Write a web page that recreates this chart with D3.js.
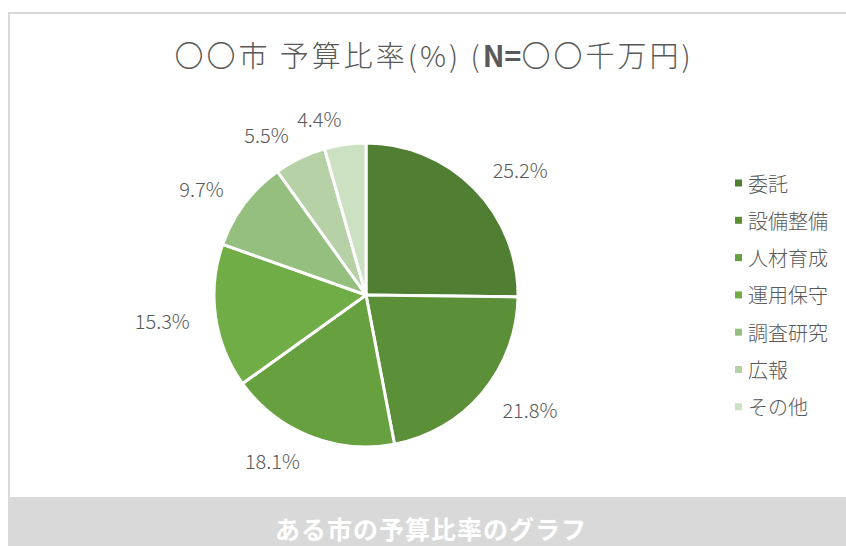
<!DOCTYPE html>
<html>
<head>
<meta charset="utf-8">
<script src="https://cdn.jsdelivr.net/npm/d3@7"></script>
<style>
    body { margin: 0; background: #fff; }
    svg { display: block; font-family: "Noto Sans CJK JP", "Noto Sans", sans-serif; }
</style>
</head>
<body>
<svg id="chart"></svg>
<script>
// 予算の内訳 (%)
var categories = ["委託", "設備整備", "人材育成", "運用保守", "調査研究", "広報", "その他"];
var shares = [25.2, 21.8, 18.1, 15.3, 9.7, 5.5, 4.4];
var colors = ["#507e32", "#5b9039", "#66a03f", "#70ad47", "#95bf7f", "#b5d1a5", "#cce0c2"];
var titleParts = ["〇〇市 予算比率(%) (", "N=", "〇〇千万円)"];
var caption = "ある市の予算比率のグラフ";

var width = 846,
    height = 546,
    radius = 152,
    cx = 366,
    cy = 295;

var svg = d3.select("#chart")
    .attr("width", width)
    .attr("height", height);

// chart frame
svg.append("rect")
    .attr("x", 9)
    .attr("y", 13)
    .attr("width", width)
    .attr("height", 500)
    .attr("fill", "#fff")
    .attr("stroke", "#d9d9d9")
    .attr("stroke-width", 2);

var title = svg.append("text")
    .attr("x", 434)
    .attr("y", 67)
    .attr("text-anchor", "middle")
    .attr("fill", "#595959")
    .style("font-size", "29px")
    .style("font-weight", 300);

title.selectAll("tspan")
    .data(titleParts)
    .enter().append("tspan")
    .style("font-weight", function(d, i) { return i === 1 ? 600 : 300; })
    .style("letter-spacing", function(d, i) { return i === 1 ? "0px" : "3px"; })
    .text(function(d) { return d; });

var pie = d3.pie()
    .sort(null)
    .value(function(d) { return d; });

var arc = d3.arc()
    .outerRadius(radius)
    .innerRadius(0);

var arcs = pie(shares);

var g = svg.append("g")
    .attr("transform", "translate(" + cx + "," + cy + ")");

g.selectAll("path")
    .data(arcs)
    .enter().append("path")
    .attr("d", arc)
    .attr("fill", function(d, i) { return colors[i]; })
    .attr("stroke", "#fff")
    .attr("stroke-width", 3)
    .attr("stroke-linejoin", "round");

// outside-end labels
var labelR = radius + 26;
g.selectAll(".lbl")
    .data(arcs)
    .enter().append("text")
    .attr("class", "lbl")
    .attr("fill", "#595959")
    .style("font-size", "20px")
    .style("font-weight", 300)
    .attr("dominant-baseline", "central")
    .attr("text-anchor", function(d) {
        return (d.startAngle + d.endAngle) / 2 < Math.PI ? "start" : "end";
    })
    .attr("x", function(d) { return Math.sin((d.startAngle + d.endAngle) / 2) * labelR; })
    .attr("y", function(d) { return -Math.cos((d.startAngle + d.endAngle) / 2) * labelR; })
    .text(function(d) { return d.data.toFixed(1) + "%"; });

// legend
var legend = svg.append("g")
    .attr("transform", "translate(735,183)");

var row = legend.selectAll("g")
    .data(categories)
    .enter().append("g")
    .attr("transform", function(d, i) { return "translate(0," + (i * 37.3) + ")"; });

row.append("rect")
    .attr("x", 0)
    .attr("y", -3.5)
    .attr("width", 7)
    .attr("height", 7)
    .attr("fill", function(d, i) { return colors[i]; });

row.append("text")
    .attr("x", 13)
    .attr("y", 0)
    .attr("dominant-baseline", "central")
    .attr("fill", "#595959")
    .style("font-size", "20px")
    .style("font-weight", 300)
    .text(function(d) { return d; });

// caption band
svg.append("rect")
    .attr("x", 8)
    .attr("y", 497)
    .attr("width", width)
    .attr("height", height - 497)
    .attr("fill", "#d9d9d9");

svg.append("text")
    .attr("x", 431)
    .attr("y", 528)
    .attr("text-anchor", "middle")
    .attr("dominant-baseline", "central")
    .attr("fill", "#fff")
    .style("font-size", "25px")
    .style("font-weight", "bold")
    .style("letter-spacing", "1px")
    .text(caption);
</script>
</body>
</html>
